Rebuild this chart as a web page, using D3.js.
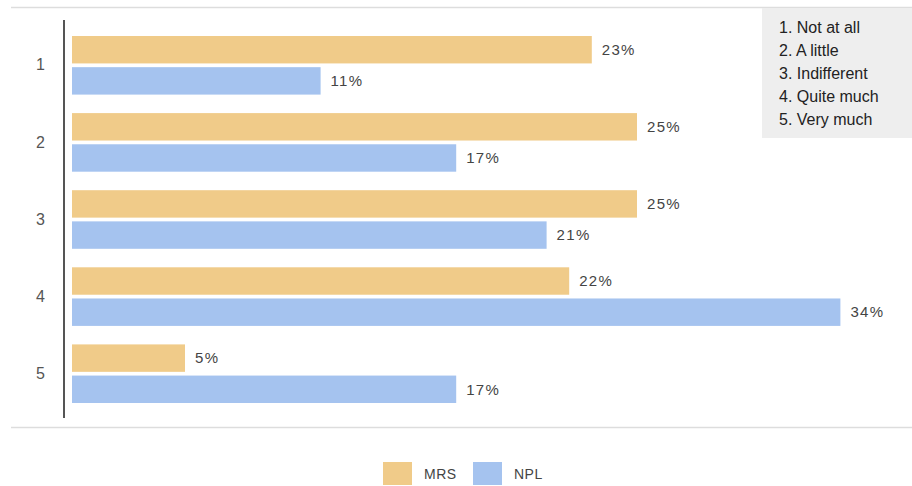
<html>
  <head>
    <meta charset="utf-8">
    <title>MRS vs NPL</title>
  </head>
  <style>
    body { margin: 0; background: #ffffff; }
    text { font-family: "Liberation Sans", Arial, sans-serif; }
    .valueLabel { font-size: 15px; fill: #444; letter-spacing: 1.3px; }
    .catLabel { font-size: 16px; fill: #555; }
    .note { font-size: 16px; fill: #222; }
    .legendText { font-size: 14px; fill: #444; letter-spacing: 0.5px; }
  </style>
  <body>
    <div id="chart"></div>
    <script src="https://cdn.jsdelivr.net/npm/d3@7"></script>
    <script>
      // data
      var categories = ["1", "2", "3", "4", "5"];
      var seriesNames = ["MRS", "NPL"];
      var mrsValues = [23, 25, 25, 22, 5];
      var nplValues = [11, 17, 21, 34, 17];
      var notes = ["1. Not at all", "2. A little", "3. Indifferent", "4. Quite much", "5. Very much"];

      var colors = { "MRS": "#f0cb89", "NPL": "#a5c3ef" };

      var W = 912, H = 486;

      var rows = categories.map(function(c, i) {
        return { cat: c, MRS: mrsValues[i], NPL: nplValues[i] };
      });

      var svg = d3.select("#chart")
                  .append("svg")
                  .attr("width", W)
                  .attr("height", H);

      // scales
      var x = d3.scaleLinear()
                .domain([0, 37])
                .range([72, 72 + 22.6 * 37]);

      var y = d3.scaleBand()
                .domain(categories)
                .range([36, 403])
                .paddingInner(0.24)
                .paddingOuter(0);

      var ySeries = d3.scaleBand()
                      .domain(seriesNames)
                      .range([0, y.bandwidth()])
                      .paddingInner(0.12);

      // top and bottom thin rules
      svg.append("line")
         .attr("x1", 11).attr("x2", W)
         .attr("y1", 7.5).attr("y2", 7.5)
         .attr("stroke", "#dddddd").attr("stroke-width", 1.5);

      svg.append("line")
         .attr("x1", 11).attr("x2", W)
         .attr("y1", 427.5).attr("y2", 427.5)
         .attr("stroke", "#dddddd").attr("stroke-width", 1.5);

      // bars
      var groups = svg.selectAll("g.group")
                      .data(rows)
                      .enter()
                      .append("g")
                      .attr("class", "group")
                      .attr("transform", function(d) { return "translate(0," + y(d.cat) + ")"; });

      var bars = groups.selectAll("g.bar")
                       .data(function(d) { return seriesNames.map(function(s) { return { key: s, value: d[s] }; }); })
                       .enter()
                       .append("g")
                       .attr("class", "bar");

      bars.append("rect")
          .attr("x", x(0))
          .attr("y", function(d) { return ySeries(d.key); })
          .attr("width", function(d) { return x(d.value) - x(0); })
          .attr("height", ySeries.bandwidth())
          .attr("fill", function(d) { return colors[d.key]; });

      bars.append("text")
          .attr("class", "valueLabel")
          .attr("x", function(d) { return x(d.value) + 10; })
          .attr("y", function(d) { return ySeries(d.key) + ySeries.bandwidth() / 2; })
          .attr("dy", "0.35em")
          .text(function(d) { return d.value + "%"; });

      // category axis
      var yAxis = d3.axisLeft(y).tickSize(0).tickPadding(18);
      var gY = svg.append("g")
                  .attr("transform", "translate(63,0)")
                  .call(yAxis);
      gY.select(".domain").remove();
      gY.selectAll("text")
        .attr("class", "catLabel")
        .attr("font-size", null)
        .attr("font-family", null)
        .attr("fill", null);

      svg.append("line")
         .attr("x1", 64).attr("x2", 64)
         .attr("y1", 20).attr("y2", 418)
         .attr("stroke", "#555").attr("stroke-width", 2);

      // answer key box
      svg.append("rect")
         .attr("x", 762).attr("y", 8)
         .attr("width", 150).attr("height", 130)
         .attr("fill", "#eeeeee");

      svg.selectAll("text.note")
         .data(notes)
         .enter()
         .append("text")
         .attr("class", "note")
         .attr("x", 779)
         .attr("y", function(d, i) { return 27 + i * 23; })
         .attr("dy", "0.35em")
         .text(function(d) { return d; });

      // legend
      var legend = svg.append("g").attr("transform", "translate(383,462)");
      var items = legend.selectAll("g")
                        .data(seriesNames)
                        .enter()
                        .append("g")
                        .attr("transform", function(d, i) { return "translate(" + (i * 90) + ",0)"; });
      items.append("rect")
           .attr("width", 29).attr("height", 23)
           .attr("fill", function(d) { return colors[d]; });
      items.append("text")
           .attr("class", "legendText")
           .attr("x", 41).attr("y", 12)
           .attr("dy", "0.35em")
           .text(function(d) { return d; });
    </script>
  </body>
</html>
